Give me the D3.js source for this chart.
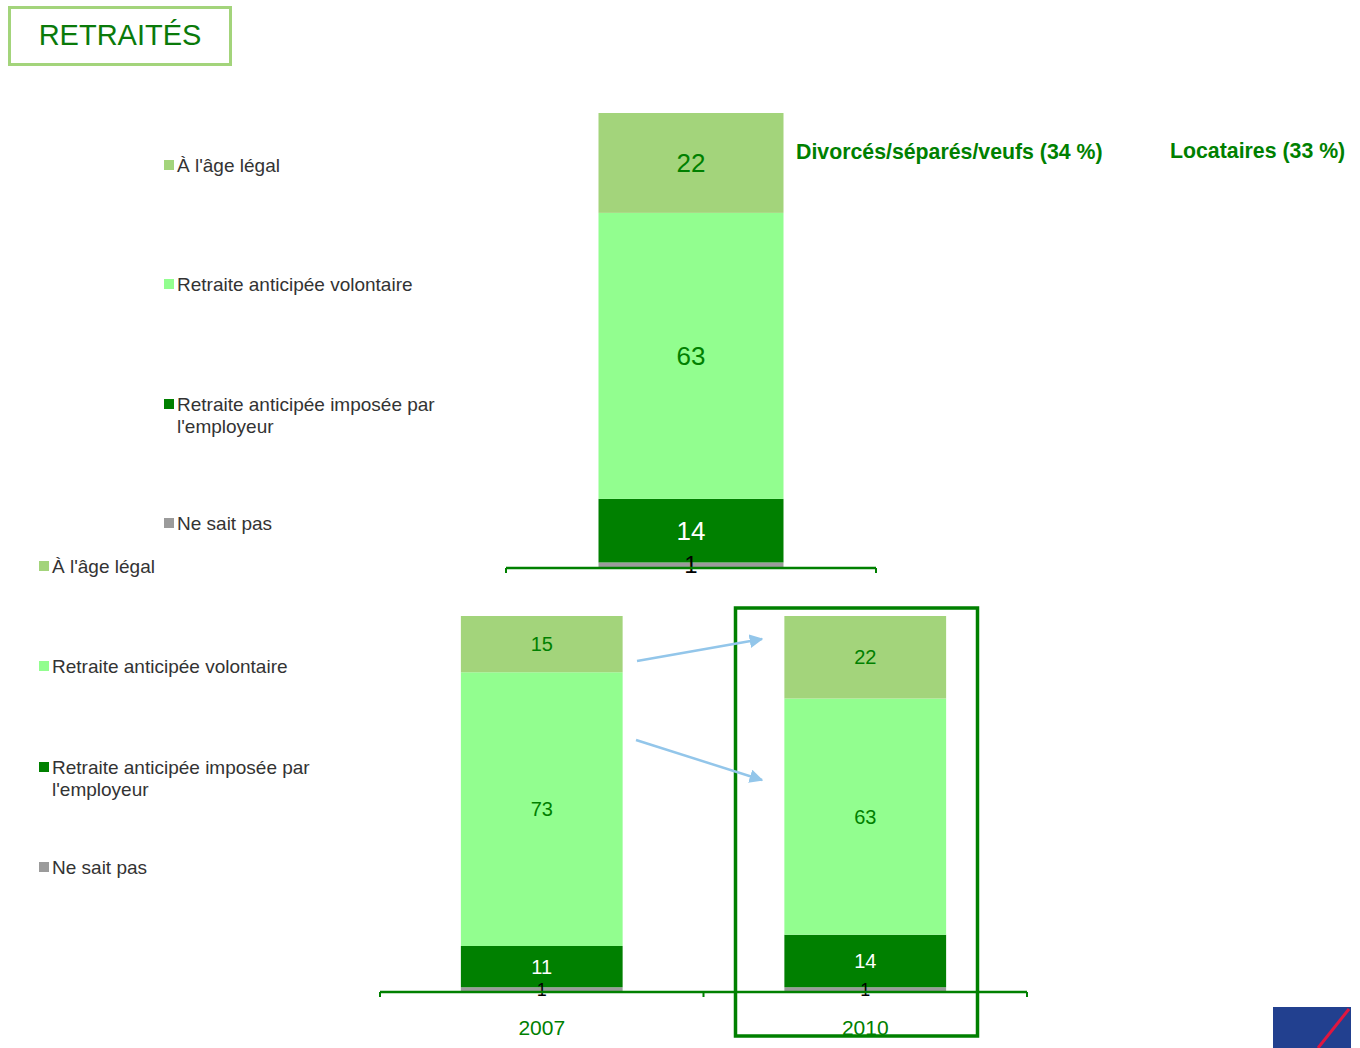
<!DOCTYPE html>
<html><head><meta charset="utf-8">
<script src="https://cdn.jsdelivr.net/npm/d3@7/dist/d3.min.js"></script>
<style>body{margin:0;background:#fff;} svg{display:block;font-family:"Liberation Sans",Arial,sans-serif;}</style>
</head><body>
<svg id="c" width="1360" height="1048"></svg>
<script>
const seriesNames = ["Ne sait pas", "Retraite anticipée imposée par l'employeur", "Retraite anticipée volontaire", "À l'âge légal"];
const seriesColors = ["#9b9b9b", "#008000", "#92fe8f", "#a3d47b"];
const labelColors = ["#000000", "#ffffff", "#008000", "#008000"];
const legendOrder = [3, 2, 1, 0];
const legendLines = [["À l'âge légal"], ["Retraite anticipée volontaire"], ["Retraite anticipée imposée par", "l'employeur"], ["Ne sait pas"]];

const topCategories = ["Divorcés"];
const topValues = [[1], [14], [63], [22]];
const topNotes = ["Divorcés/séparés/veufs (34 %)", "Locataires (33 %)"];

const bottomCategories = ["2007", "2010"];
const bottomValues = [[1, 1], [11, 14], [73, 63], [15, 22]];

const svg = d3.select("#c");

// Title box
svg.append("rect").attr("x", 9.5).attr("y", 7.5).attr("width", 221).attr("height", 57)
  .attr("fill", "#fff").attr("stroke", "#a3d47b").attr("stroke-width", 3);
svg.append("text").attr("x", 120).attr("y", 45).attr("text-anchor", "middle")
  .attr("font-size", 29).attr("fill", "#0a7a0a").text("RETRAITÉS");

function drawChart(cfg) {
  const g = svg.append("g");
  const x = d3.scaleBand().domain(cfg.categories).range([cfg.x0, cfg.x1]).paddingInner(0).paddingOuter(0);
  const y = d3.scaleLinear().domain([0, 100]).range([cfg.yBase, cfg.yTop]);
  const bw = x.bandwidth() * cfg.barFrac;
  cfg.categories.forEach((cat, ci) => {
    let acc = 0;
    const cx = x(cat) + x.bandwidth() / 2;
    cfg.values.forEach((vals, si) => {
      const v = vals[ci];
      const y0 = y(acc), y1 = y(acc + v);
      g.append("rect").attr("x", cx - bw / 2).attr("y", y1).attr("width", bw).attr("height", y0 - y1)
        .attr("fill", seriesColors[si]);
      acc += v;
    });
    acc = 0;
    cfg.values.forEach((vals, si) => {
      const v = vals[ci];
      const ym = (y(acc) + y(acc + v)) / 2;
      g.append("text").attr("x", cx).attr("y", ym).attr("dy", "0.36em").attr("text-anchor", "middle")
        .attr("font-size", si === 0 ? cfg.fs - 2 : cfg.fs).attr("fill", labelColors[si]).text(v);
      acc += v;
    });
  });
  // axis
  const axisY = cfg.yBase + 1;
  g.append("line").attr("x1", cfg.x0).attr("x2", cfg.x1).attr("y1", axisY).attr("y2", axisY)
    .attr("stroke", "#008000").attr("stroke-width", 2.5);
  const tickXs = cfg.categories.map(c => x(c)).concat([cfg.x1]);
  tickXs.forEach(tx => {
    g.append("line").attr("x1", tx).attr("x2", tx).attr("y1", axisY).attr("y2", axisY + 5)
      .attr("stroke", "#008000").attr("stroke-width", 2);
  });
  if (cfg.showCats) {
    cfg.categories.forEach(c => {
      g.append("text").attr("x", x(c) + x.bandwidth() / 2).attr("y", cfg.catY).attr("text-anchor", "middle")
        .attr("font-size", 21).attr("fill", "#008000").text(c);
    });
  }
  // legend
  legendOrder.forEach((si, li) => {
    const ly = cfg.legendYs[li];
    g.append("rect").attr("x", cfg.legendX).attr("y", ly - 5).attr("width", 10).attr("height", 10).attr("fill", seriesColors[si]);
    legendLines[li].forEach((t, k) => {
      g.append("text").attr("x", cfg.legendX + 13).attr("y", ly + k * 22).attr("dy", "0.36em")
        .attr("font-size", 19).attr("fill", "#333333").text(t);
    });
  });
  return {x, y};
}

drawChart({categories: topCategories, values: topValues, x0: 506, x1: 876, yBase: 567, yTop: 113,
  barFrac: 0.5, fs: 26, showCats: false, legendX: 164, legendYs: [165, 284, 404, 523]});

const bot = drawChart({categories: bottomCategories, values: bottomValues, x0: 380, x1: 1027, yBase: 991, yTop: 616,
  barFrac: 0.5, fs: 20, showCats: true, catY: 1035, legendX: 39, legendYs: [566, 666, 767, 867]});

// top notes
svg.append("text").attr("x", 796).attr("y", 159).attr("font-size", 21.3).attr("font-weight", "bold")
  .attr("fill", "#008000").text(topNotes[0]);
svg.append("text").attr("x", 1170).attr("y", 158).attr("font-size", 21.3).attr("font-weight", "bold")
  .attr("fill", "#008000").text(topNotes[1]);

// highlight box
svg.append("rect").attr("x", 735.5).attr("y", 608).attr("width", 242).attr("height", 428)
  .attr("fill", "none").attr("stroke", "#008000").attr("stroke-width", 3.5);

// arrows
const defs = svg.append("defs");
defs.append("marker").attr("id", "ah").attr("viewBox", "0 0 10 10").attr("refX", 9).attr("refY", 5)
  .attr("markerWidth", 5.5).attr("markerHeight", 5.5).attr("orient", "auto").attr("markerUnits", "strokeWidth")
  .append("path").attr("d", "M0,0 L10,5 L0,10 z").attr("fill", "#93c6ea");
[[637, 661, 762, 639], [636, 740, 762, 780]].forEach(a => {
  svg.append("line").attr("x1", a[0]).attr("y1", a[1]).attr("x2", a[2]).attr("y2", a[3])
    .attr("stroke", "#93c6ea").attr("stroke-width", 2.5).attr("marker-end", "url(#ah)");
});

// logo
svg.append("rect").attr("x", 1273).attr("y", 1007).attr("width", 78).attr("height", 41).attr("fill", "#22408f");
svg.append("line").attr("x1", 1318).attr("y1", 1048).attr("x2", 1349).attr("y2", 1009)
  .attr("stroke", "#e0163f").attr("stroke-width", 3);
</script>
</body></html>
